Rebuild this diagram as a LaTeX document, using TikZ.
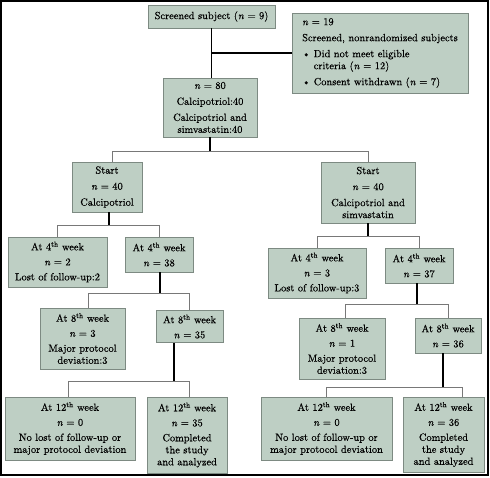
\documentclass[tikz,border=0pt]{standalone}
\usepackage{fontspec}
\usepackage{xcolor}
\newfontfamily\boxfont{lmroman10-regular.otf}[ItalicFont=lmroman10-italic.otf, FakeBold=0.5]
\definecolor{boxfill}{RGB}{190,207,196}
\definecolor{boxline}{RGB}{125,138,130}
\definecolor{forkgray}{RGB}{120,120,120}

\begin{document}
\begin{tikzpicture}[
  x=1pt, y=-1pt,
  box/.style={draw=boxline, fill=boxfill, line width=0.9pt, align=center, inner sep=0pt,
    font=\boxfont\fontsize{10.4}{12}\selectfont},
  size/.style 2 args={minimum width=#1pt, minimum height=#2pt},
  link/.style={draw, line width=1.2pt, black},
  stem/.style={draw, line width=2.4pt, black},
  branch/.style={draw, line width=0.8pt, forkgray}
]

\useasboundingbox (0,0) rectangle (490,477);
\draw[line width=1.6pt] (1,1) rectangle (488,475);

% top of the flow
\node[box, size={127}{23}] (scr) at (211.5,16.5) {Screened subject (\textit{n} = 9)};
\node[box, size={176}{80}, align=left] (nr) at (380,53)
  {\textit{n} = 19\\[4pt]
   Screened, nonrandomized subjects\\[4pt]
   \textbullet\ Did not meet eligible\\
   \phantom{\textbullet\ }criteria (\textit{n} = 12)\\[4pt]
   \textbullet\ Consent withdrawn (\textit{n} = 7)};
\node[box, size={94}{59}] (rnd) at (210,107.5)
  {\textit{n} = 80\\[4pt] Calcipotriol:40\\[4pt] Calcipotriol and\\ simvastatin:40};

% calcipotriol arm
\node[box, size={70}{50}] (startL) at (107,187)
  {Start\\[4pt] \textit{n} = 40\\[4pt] Calcipotriol};
\node[box, size={99}{50}] (wkfourLa) at (57.5,262)
  {At 4\textsuperscript{th} week\\[3pt] \textit{n} = 2\\[3pt] Lost of follow-up:2};
\node[box, size={68}{35}] (wkfourLb) at (159,254.5)
  {At 4\textsuperscript{th} week\\[3pt] \textit{n} = 38};
\node[box, size={85}{61}] (wkeightLa) at (82.5,338.5)
  {At 8\textsuperscript{th} week\\[3pt] \textit{n} = 3\\[3pt] Major protocol\\ deviation:3};
\node[box, size={67}{32}] (wkeightLb) at (189.5,326.5)
  {At 8\textsuperscript{th} week\\[3pt] \textit{n} = 35};
\node[box, size={130}{63}] (wktwelveLa) at (70,428.5)
  {At 12\textsuperscript{th} week\\[3pt] \textit{n} = 0\\[3pt] No lost of follow-up or\\ major protocol deviation};
\node[box, size={80}{76}] (wktwelveLb) at (187,435)
  {At 12\textsuperscript{th} week\\[3pt] \textit{n} = 35\\[3pt] Completed\\ the study\\ and analyzed};

% calcipotriol and simvastatin arm
\node[box, size={94}{61}] (startR) at (368,192.5)
  {Start\\[4pt] \textit{n} = 40\\[4pt] Calcipotriol and\\ simvastatin};
\node[box, size={98}{50}] (wkfourRa) at (317,273)
  {At 4\textsuperscript{th} week\\[3pt] \textit{n} = 3\\[3pt] Lost of follow-up:3};
\node[box, size={68}{35}] (wkfourRb) at (419,265.5)
  {At 4\textsuperscript{th} week\\[3pt] \textit{n} = 37};
\node[box, size={86}{61}] (wkeightRa) at (342,348.5)
  {At 8\textsuperscript{th} week\\[3pt] \textit{n} = 1\\[3pt] Major protocol\\ deviation:3};
\node[box, size={66}{35}] (wkeightRb) at (448,335.5)
  {At 8\textsuperscript{th} week\\[3pt] \textit{n} = 36};
\node[box, size={131}{63}] (wktwelveRa) at (326.5,428.5)
  {At 12\textsuperscript{th} week\\[3pt] \textit{n} = 0\\[3pt] No lost of follow-up or\\ major protocol deviation};
\node[box, size={81}{75}] (wktwelveRb) at (443.5,434.5)
  {At 12\textsuperscript{th} week\\[3pt] \textit{n} = 36\\[3pt] Completed\\ the study\\ and analyzed};

% connectors
\coordinate (join) at (scr.south |- nr.west);
\draw[link] (scr.south) -- (scr.south |- rnd.north);
\draw[link] (join) -- (nr.west);

\draw[stem] (rnd.south) -- ++(0,14) coordinate (forkA);
\draw[branch] ([xshift=5pt]startL.north) |- (forkA) -| (startR.north);

\draw[stem] ([xshift=2pt]startL.south) -- ++(0,13) coordinate (forkB);
\draw[branch] (wkfourLa.north) |- (forkB) -| (wkfourLb.north);

\draw[stem] ([xshift=1pt]wkfourLb.south) -- ++(0,21) coordinate (forkC);
\draw[branch] ([xshift=5.5pt]wkeightLa.north) |- (forkC) -| (wkeightLb.north);

\draw[stem] ([xshift=-15.5pt]wkeightLb.south) -- ++(0,38) coordinate (forkD);
\draw[branch] ([xshift=-2pt]wktwelveLa.north) |- (forkD) -| ([xshift=2pt]wktwelveLb.north);

\draw[link] (startR.south) -- ++(0,13) coordinate (forkE);
\draw[branch] (wkfourRa.north) |- (forkE) -| (wkfourRb.north);

\draw[link] ([xshift=-2pt]wkfourRb.south) -- ++(0,21) coordinate (forkF);
\draw[branch] ([xshift=3pt]wkeightRa.north) |- (forkF) -| (wkeightRb.north);

\draw[stem] ([xshift=-5pt]wkeightRb.south) -- ++(0,34) coordinate (forkG);
\draw[branch] (wktwelveRa.north) |- (forkG) -| ([xshift=18.5pt]wktwelveRb.north);

\end{tikzpicture}
\end{document}
